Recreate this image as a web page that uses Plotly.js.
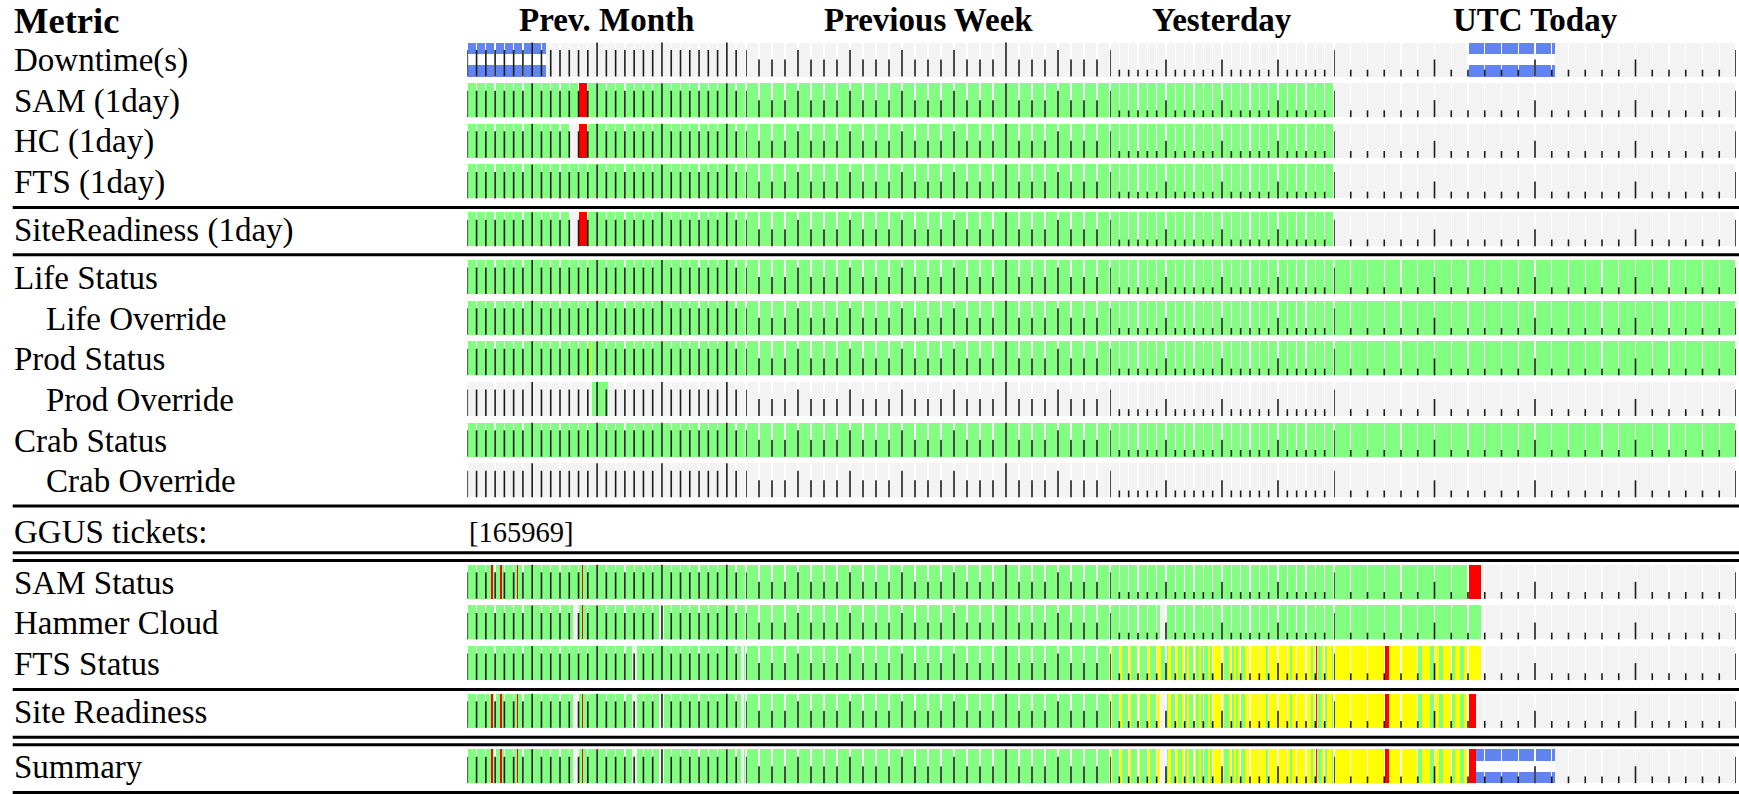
<!DOCTYPE html>
<html><head><meta charset="utf-8">
<script src="https://cdn.plot.ly/plotly-3.0.1.min.js"></script>
<style>html,body{margin:0;padding:0;background:#fff;overflow:hidden}#chart{width:1739px;height:794px}</style>
</head><body><div id="chart"></div>
<script>
// ================= DATA =================
const sectionTitles = ["Prev. Month", "Previous Week", "Yesterday", "UTC Today"];
const sectionCells = [30, 28, 24, 24];   // days / 6h slots / hours / hours
const headerLabel = "Metric";
const rowLabels = ["Downtime(s)", "SAM (1day)", "HC (1day)", "FTS (1day)", "SiteReadiness (1day)",
  "Life Status", "Life Override", "Prod Status", "Prod Override", "Crab Status", "Crab Override",
  "GGUS tickets:", "SAM Status", "Hammer Cloud", "FTS Status", "Site Readiness", "Summary"];
const ggusTickets = "[165969]";

// tick level at each cell boundary (1 short .. 4 full)
const monthTickLevel = [3,3,3,3,3,3,3,4,3,3,3,3,3,3,4,3,3,3,3,3,3,4,3,3,3,3,3,3,4,3];
const weekTickLevel = [3,2,2,2,3,2,2,2,3,2,2,2,3,2,2,2,3,2,2,2,4,2,2,2,3,2,2,2];
const yesterdayTickLevel = [3,1,1,1,1,1,2,1,1,1,1,1,2,1,1,1,1,1,2,1,1,1,1,1];
const todayTickLevel = [3,1,1,1,1,1,2,1,1,1,1,1,2,1,1,1,1,1,2,1,1,1,1,1,3];

// status codes: G ok, R error, Y warning, E no data
// month strings grouped by week, week strings by day, hour strings by 6 hours
const allEmpty = ["EEEEEEE EEEEEEE EEEEEEE EEEEEEE EE", "EEEE EEEE EEEE EEEE EEEE EEEE EEEE",
  "EEEEEE EEEEEE EEEEEE EEEEEE", "EEEEEE EEEEEE EEEEEE EEEEEE"];
const samDay = ["GGGGGGG GGGGGRG GGGGGGG GGGGGGG GG", "GGGG GGGG GGGG GGGG GGGG GGGG GGGG",
  "GGGGGG GGGGGG GGGGGG GGGGGG", "EEEEEE EEEEEE EEEEEE EEEEEE"];
const hcDay = ["GGGGGGG GGGGERG GGGGGGG GGGGGGG GG", "GGGG GGGG GGGG GGGG GGGG GGGG GGGG",
  "GGGGGG GGGGGG GGGGGG GGGGGG", "EEEEEE EEEEEE EEEEEE EEEEEE"];
const ftsDay = ["GGGGGGG GGGGGGG GGGGGGG GGGGGGG GG", "GGGG GGGG GGGG GGGG GGGG GGGG GGGG",
  "GGGGGG GGGGGG GGGGGG GGGGGG", "EEEEEE EEEEEE EEEEEE EEEEEE"];
const srDay = ["GGGGGGG GGGGERG GGGGGGG GGGGGGG GG", "GGGG GGGG GGGG GGGG GGGG GGGG GGGG",
  "GGGGGG GGGGGG GGGGGG GGGGGG", "EEEEEE EEEEEE EEEEEE EEEEEE"];
const allGreen = ["GGGGGGG GGGGGGG GGGGGGG GGGGGGG GG", "GGGG GGGG GGGG GGGG GGGG GGGG GGGG",
  "GGGGGG GGGGGG GGGGGG GGGGGG", "GGGGGG GGGGGG GGGGGG GGGGGG"];

// hourly quarter-hour strings (4 chars = 1 hour)
const samStatusToday = ["GGGG","GGGG","GGGG","GGGG","GGGG","GGGG","GGGG","GGGG","RRRE","EEEE","EEEE","EEEE",
  "EEEE","EEEE","EEEE","EEEE","EEEE","EEEE","EEEE","EEEE","EEEE","EEEE","EEEE","EEEE"];
const hcStatusToday = ["GGGG","GGGG","GGGG","GGGG","GGGG","GGGG","GGGG","GGGG","GGGE","EEEE","EEEE","EEEE",
  "EEEE","EEEE","EEEE","EEEE","EEEE","EEEE","EEEE","EEEE","EEEE","EEEE","EEEE","EEEE"];
const ftsStatusYesterday = ["YGGG","YGGG","YGGG","YGGG","YGGG","YYGG","GYGG","YGGY","GYGG","YGYG","GGYG","YYYY",
  "YGGY","GYGY","GGYY","YYYY","YYYG","YYYY","YYYY","YGYY","YYYY","YYGY","YGGY","GYYG"];
const ftsStatusToday = ["YYYY","YYYY","YYYY","YYYY","YYYY","GYYG","YGYY","GYGY","YYYE","EEEE","EEEE","EEEE",
  "EEEE","EEEE","EEEE","EEEE","EEEE","EEEE","EEEE","EEEE","EEEE","EEEE","EEEE","EEEE"];
const srStatusToday = ["YYYY","YYYY","YYYY","YYYY","YYYY","GYYG","YGYY","GYGY","RREE","EEEE","EEEE","EEEE",
  "EEEE","EEEE","EEEE","EEEE","EEEE","EEEE","EEEE","EEEE","EEEE","EEEE","EEEE","EEEE"];

const samStatus = ["GGGGGGG GGGGGGG GGGGGGG GGGGGGG GG", "GGGG GGGG GGGG GGGG GGGG GGGG GGGG",
  "GGGGGG GGGGGG GGGGGG GGGGGG", samStatusToday.join("")];
const hcStatus = ["GGGGGGG GGGGGGG GGGGGGG GGGGGGG GG", "GGGG GGGG GGGG GGGG GGGG GGGG GGGG",
  "GGGGGG GGGGGG GGGGGG GGGGGG", hcStatusToday.join("")];
const ftsStatus = ["GGGGGGG GGGGGGG GGGGGGG GGGGGGG GG", "GGGG GGGG GGGG GGGG GGGG GGGG GGGG",
  ftsStatusYesterday.join(""), ftsStatusToday.join("")];
const srStatus = ["GGGGGGG GGGGGGG GGGGGGG GGGGGGG GG", "GGGG GGGG GGGG GGGG GGGG GGGG GGGG",
  ftsStatusYesterday.join(""), srStatusToday.join("")];

// status per row (index follows rowLabels), null = text row
const rowStatus = [allEmpty, samDay, hcDay, ftsDay, srDay, allGreen, allGreen, allGreen, allEmpty,
  allGreen, allEmpty, null, samStatus, hcStatus, ftsStatus, srStatus, srStatus];

// fine status intervals: [row, section, start, end, code] (units: cells of the section)
const statusEvents = [
  [7,0,13.32,13.45,"Y"], [8,0,13.5,15.15,"G"],
  [12,0,2.60,2.72,"R"], [12,0,3.57,3.69,"R"], [12,0,5.36,5.48,"R"], [12,0,12.33,12.45,"R"],
  [13,0,11.45,11.97,"E"], [13,0,12.33,12.45,"R"], [13,0,20.7,21.2,"E"], [13,2,5.36,5.9,"E"],
  [14,0,17.8,18.3,"E"], [14,0,29.5,29.85,"E"], [14,2,22.05,22.2,"R"], [14,3,3.04,3.3,"R"],
  [15,0,2.60,2.72,"R"], [15,0,3.57,3.69,"R"], [15,0,5.36,5.48,"R"], [15,0,11.45,11.97,"E"],
  [15,0,12.33,12.45,"R"], [15,0,17.8,18.3,"E"], [15,0,20.7,21.2,"E"], [15,0,29.5,29.85,"E"],
  [15,2,5.36,5.9,"E"], [15,2,22.05,22.2,"R"], [15,3,3.04,3.3,"R"],
  [16,0,2.60,2.72,"R"], [16,0,3.57,3.69,"R"], [16,0,5.36,5.48,"R"], [16,0,11.45,11.97,"E"],
  [16,0,12.33,12.45,"R"], [16,0,17.8,18.3,"E"], [16,0,20.7,21.2,"E"], [16,0,29.5,29.85,"E"],
  [16,2,5.36,5.9,"E"], [16,2,22.05,22.2,"R"], [16,3,3.04,3.3,"R"]
];
// downtime intervals: [row, section, start, end]
const downtimes = [[0,0,0,8.5], [0,3,8.0,13.2], [16,3,8.5,13.2]];

// ================= STYLE / LAYOUT =================
const W = 1739, H = 794;
const COLORS = {G:"#80ff80", R:"#ff0000", Y:"#ffff00", E:"#f3f3f3"};
const BLUE = "#6283f2";
const secPx = [[467.3,745.4],[746,1110],[1110,1334],[1334,1736]];
const FIRST = 59.5, PITCH = 40.65, BAR = 34, GAP_PX = 1.3;
const extraGap = [0,0,0,0,7.2,7.1,0,0,0,0,0,10.1,10.1,0,0,7.1,14.7];
const indent = [0,0,0,0,0,0,1,0,1,0,1,0,0,0,0,0,0];
const separators = [[3,26,false],[4,25.5,false],[10,25.8,false],[11,21.8,true],[14,26.4,false],[15,26.4,true],[16,26.4,false]];
const levelFrac = {1:0.2, 2:0.5, 3:0.78, 4:1.0};
const tickLevels = [monthTickLevel, weekTickLevel, yesterdayTickLevel, todayTickLevel];

const rowY = [];
let acc = 0;
for (let i = 0; i < rowLabels.length; i++) { acc += extraGap[i]; rowY.push(FIRST + i*PITCH + acc); }
const cellPx = secPx.map((p,s) => (p[1]-p[0]) / sectionCells[s]);
const axisId = s => s === 0 ? "x" : "x" + (s+1);

const traces = [];
for (let s = 0; s < 4; s++) {
  const n = sectionCells[s], g = GAP_PX / cellPx[s];
  const bx = [], bb = [], by = [], bc = [], bw = [];
  function push(a, b, y, w, c) { bx.push(b-a); bb.push(a); by.push(y); bw.push(w); bc.push(c); }
  rowStatus.forEach((st, r) => {
    if (!st) return;
    const str = st[s].replace(/ /g, "");
    const k = str.length / n;
    for (let c = 0; c < n; c++) {
      let j = 0;
      while (j < k) {
        const ch = str[c*k + j]; let e = j;
        while (e < k && str[c*k + e] === ch) e++;
        let a = c + j/k, b = c + e/k;
        if (j === 0) a += g/2; if (e === k) b -= g/2;
        push(a, b, rowY[r], BAR, COLORS[ch]);
        j = e;
      }
    }
  });
  // downtime: white body with blue top and bottom thirds, split by cells
  downtimes.filter(d => d[1] === s).forEach(d => {
    const [r, , a0, b0] = d;
    for (let c = Math.floor(a0); c < Math.ceil(b0); c++) {
      const a = Math.max(a0, c + g/2), b = Math.min(b0, c + 1 - g/2);
      if (b <= a) continue;
      push(a, b, rowY[r], BAR, "#ffffff");
    }
  });
  statusEvents.filter(ev => ev[1] === s).forEach(ev => push(ev[2], ev[3], rowY[ev[0]], BAR, COLORS[ev[4]]));
  downtimes.filter(d => d[1] === s).forEach(d => {
    const [r, , a0, b0] = d;
    for (let c = Math.floor(a0); c < Math.ceil(b0); c++) {
      let a = Math.max(a0, c + g/2), b = Math.min(b0, c + 1 - g/2);
      if (b <= a) continue;
      push(a, b, rowY[r] - BAR/3, BAR/3, BLUE);
      push(a, b, rowY[r] + BAR/3, BAR/3, BLUE);
    }
  });
  traces.push({type:"bar", orientation:"h", xaxis:axisId(s), yaxis:"y", x:bx, base:bb, y:by, width:bw,
    marker:{color:bc, line:{width:0}}, hoverinfo:"skip", showlegend:false});
  // ticks
  const tx = [], ty = [];
  rowLabels.forEach((lab, r) => {
    if (!rowStatus[r]) return;
    const bottom = rowY[r] + BAR/2;
    tickLevels[s].forEach((lv, t) => {
      tx.push(t, t, null); ty.push(bottom, bottom - BAR*levelFrac[lv], null);
    });
  });
  traces.push({type:"scatter", mode:"lines", xaxis:axisId(s), yaxis:"y", x:tx, y:ty, cliponaxis:false,
    line:{color:"#1c1c1c", width:1.6}, hoverinfo:"skip", showlegend:false});
}

const FONT = "Liberation Serif, Times New Roman, serif";
const annotations = [];
annotations.push({text:"<b>"+headerLabel+"</b>", xref:"paper", yref:"y", x:12/W, y:20, xanchor:"left", yanchor:"middle",
  showarrow:false, font:{family:FONT, size:36.5, color:"#000"}});
sectionTitles.forEach((t, s) => annotations.push({text:"<b>"+t+"</b>", xref:axisId(s), yref:"y",
  x:sectionCells[s]/2, y:20, xanchor:"center", yanchor:"middle", showarrow:false, font:{family:FONT, size:33, color:"#000"}}));
rowLabels.forEach((t, r) => annotations.push({text:t, xref:"paper", yref:"y", x:(indent[r] ? 44 : 12)/W, y:rowY[r] + 1,
  xanchor:"left", yanchor:"middle", showarrow:false, font:{family:FONT, size:33, color:"#000"}}));
annotations.push({text:ggusTickets, xref:"x", yref:"y", x:0, y:rowY[11] + 1, xanchor:"left", yanchor:"middle",
  showarrow:false, font:{family:FONT, size:28.5, color:"#000"}});

const shapes = [];
separators.forEach(([r, off, dbl]) => {
  const ys = dbl ? [rowY[r] + off, rowY[r] + off + 7.6] : [rowY[r] + off];
  ys.forEach(y => shapes.push({type:"line", xref:"paper", yref:"y", x0:12.7/W, x1:1, y0:y, y1:y,
    line:{color:"#000", width:3}}));
});

const layout = {
  width:W, height:H, margin:{l:0, r:0, t:0, b:0}, paper_bgcolor:"#fff", plot_bgcolor:"rgba(0,0,0,0)",
  showlegend:false, barmode:"overlay", bargap:0,
  yaxis:{range:[H, 0], domain:[0,1], visible:false, fixedrange:true},
  annotations, shapes
};
for (let s = 0; s < 4; s++) {
  layout[s === 0 ? "xaxis" : "xaxis" + (s+1)] = {domain:[secPx[s][0]/W, secPx[s][1]/W], range:[0, sectionCells[s]],
    visible:false, fixedrange:true, anchor:"y"};
}
Plotly.newPlot("chart", traces, layout, {staticPlot:true, displayModeBar:false});
</script></body></html>
